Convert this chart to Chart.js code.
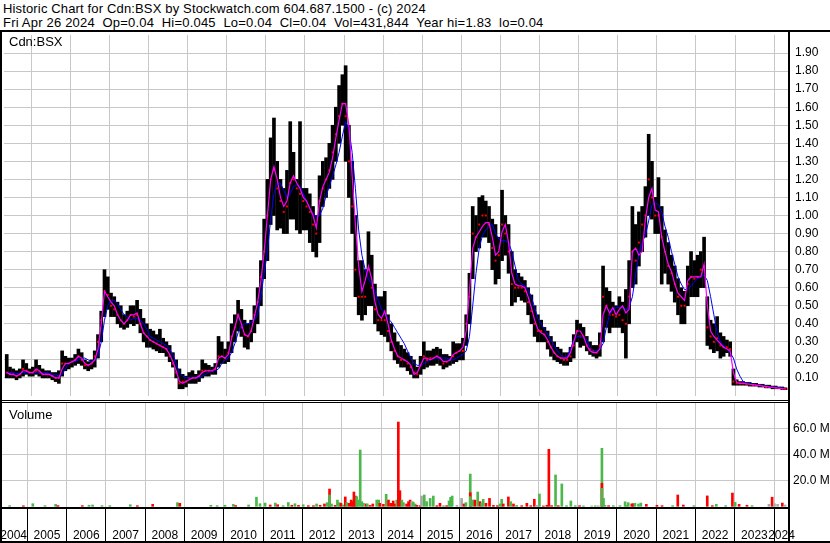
<!DOCTYPE html>
<html lang="en">
<head>
<meta charset="UTF-8">
<title>Historic Chart for Cdn:BSX</title>
<script src="https://cdn.jsdelivr.net/npm/chart.js"></script>
<style>
  body { margin: 0; background: #fff; }
  #page { position: relative; width: 830px; height: 543px; overflow: hidden; background: #fff;
          font-family: "Liberation Sans", Arial, sans-serif; color: #000; }
  .hdr { position: absolute; left: 3px; font-size: 13px; line-height: 14.4px; white-space: pre; }
  .tag { position: absolute; left: 9px; font-size: 13px; line-height: 14px; }
  canvas { position: absolute; left: 0; }
  .ln { position: absolute; background: #000; }
</style>
</head>
<body>
<div id="page">
  <div class="hdr" style="top:2px;letter-spacing:0.15px">Historic Chart for Cdn:BSX by Stockwatch.com 604.687.1500 - (c) 2024</div>
  <div class="hdr" style="top:16.4px;letter-spacing:0.2px">Fri Apr 26 2024  Op=0.04  Hi=0.045  Lo=0.04  Cl=0.04  Vol=431,844  Year hi=1.83  lo=0.04</div>
  <canvas id="priceChart" width="830" height="369" style="top:31px"></canvas>
  <canvas id="volChart" width="830" height="142" style="top:401px"></canvas>
  <div class="tag" style="top:35px">Cdn:BSX</div>
  <div class="tag" style="top:408px">Volume</div>
  <div class="ln" style="left:0;top:30px;width:830px;height:2px"></div>
  <div class="ln" style="left:0;top:30px;width:2px;height:513px"></div>
  <div class="ln" style="left:788px;top:30px;width:2px;height:513px"></div>
  <div class="ln" style="left:0;top:400px;width:789px;height:1px"></div>
  <div class="ln" style="left:0;top:402px;width:789px;height:1px"></div>
  <div class="ln" style="left:0;top:541px;width:830px;height:2px"></div>
</div>

<script>
// monthly bars, May 2004 .. Apr 2024 (one row per year)
const hi = [
  0.23,0.16,0.15,0.14,0.15,0.20,0.18,0.15,
  0.16,0.20,0.17,0.15,0.14,0.14,0.13,0.13,0.14,0.25,0.22,0.21,
  0.21,0.23,0.26,0.24,0.20,0.19,0.20,0.25,0.34,0.47,0.70,0.66,
  0.57,0.55,0.52,0.50,0.45,0.47,0.50,0.50,0.53,0.48,0.43,0.40,
  0.37,0.36,0.34,0.37,0.32,0.30,0.28,0.24,0.20,0.15,0.12,0.11,
  0.13,0.14,0.12,0.14,0.20,0.18,0.17,0.16,0.18,0.33,0.30,0.26,
  0.30,0.40,0.45,0.53,0.48,0.42,0.40,0.42,0.50,0.60,0.75,0.98,
  1.20,1.43,1.54,1.30,1.20,1.15,1.25,1.52,1.35,1.20,1.52,1.15,
  1.15,1.12,1.05,1.00,1.22,1.30,1.32,1.40,1.50,1.60,1.72,1.78,
  1.83,1.50,1.30,1.00,0.75,0.75,0.70,0.91,0.78,0.62,0.55,0.55,
  0.58,0.45,0.40,0.35,0.30,0.28,0.26,0.24,0.22,0.20,0.16,0.22,
  0.30,0.25,0.25,0.26,0.27,0.26,0.23,0.23,0.22,0.30,0.29,0.29,
  0.32,0.45,0.68,1.05,1.00,1.10,1.11,1.08,1.05,0.98,0.95,0.88,
  1.14,1.00,0.95,0.80,0.70,0.68,0.66,0.64,0.60,0.56,0.50,0.45,
  0.42,0.38,0.36,0.33,0.30,0.27,0.26,0.24,0.24,0.27,0.34,0.42,
  0.40,0.38,0.33,0.30,0.28,0.28,0.35,0.72,0.60,0.58,0.52,0.50,
  0.55,0.52,0.59,0.75,1.05,0.95,1.02,1.05,1.16,1.45,1.30,1.10,
  1.21,1.05,0.92,0.85,0.78,0.72,0.65,0.60,0.58,0.72,0.80,0.75,
  0.78,0.80,0.88,0.55,0.42,0.40,0.44,0.35,0.33,0.31,0.30,0.15,
  0.09,0.08,0.08,0.075,0.075,0.07,0.07,0.065,0.065,0.06,0.06,0.055,
  0.055,0.05,0.05,0.045
];
const lo = [
  0.10,0.10,0.10,0.09,0.10,0.11,0.12,0.11,
  0.11,0.12,0.11,0.10,0.10,0.10,0.09,0.08,0.07,0.11,0.14,0.15,
  0.16,0.17,0.18,0.17,0.15,0.14,0.15,0.16,0.21,0.30,0.44,0.48,
  0.44,0.44,0.40,0.38,0.37,0.38,0.40,0.39,0.40,0.35,0.30,0.27,
  0.27,0.26,0.25,0.24,0.24,0.22,0.19,0.16,0.10,0.04,0.04,0.05,
  0.07,0.07,0.07,0.08,0.10,0.11,0.11,0.12,0.12,0.16,0.18,0.18,
  0.19,0.24,0.30,0.36,0.33,0.27,0.26,0.30,0.35,0.40,0.50,0.65,
  0.75,0.95,1.00,0.92,0.93,0.90,0.90,0.98,0.98,0.92,0.90,0.92,
  0.92,0.85,0.80,0.77,0.85,1.05,1.10,1.15,1.20,1.30,1.40,1.50,
  1.30,1.10,0.90,0.55,0.45,0.42,0.45,0.50,0.50,0.40,0.36,0.34,
  0.33,0.30,0.25,0.20,0.18,0.16,0.16,0.14,0.12,0.10,0.10,0.12,
  0.15,0.16,0.17,0.17,0.18,0.17,0.15,0.16,0.17,0.18,0.19,0.20,
  0.20,0.28,0.40,0.65,0.80,0.82,0.88,0.88,0.85,0.70,0.62,0.65,
  0.75,0.78,0.68,0.50,0.52,0.55,0.53,0.52,0.45,0.40,0.33,0.30,
  0.30,0.30,0.26,0.22,0.20,0.19,0.18,0.17,0.17,0.19,0.21,0.30,
  0.27,0.28,0.25,0.23,0.22,0.21,0.22,0.30,0.38,0.35,0.38,0.38,
  0.38,0.35,0.21,0.40,0.60,0.62,0.72,0.80,0.88,1.00,0.98,0.90,
  0.90,0.62,0.68,0.62,0.58,0.52,0.45,0.40,0.40,0.50,0.55,0.55,
  0.55,0.60,0.60,0.28,0.26,0.24,0.25,0.21,0.22,0.24,0.22,0.06,
  0.06,0.06,0.06,0.06,0.055,0.055,0.055,0.05,0.05,0.045,0.045,0.04,
  0.04,0.04,0.035,0.035
];
const close = [
  0.13,0.12,0.12,0.11,0.12,0.15,0.14,0.13,
  0.13,0.14,0.13,0.12,0.12,0.12,0.11,0.10,0.10,0.18,0.18,0.18,
  0.19,0.20,0.22,0.20,0.17,0.17,0.18,0.22,0.30,0.42,0.58,0.56,
  0.50,0.48,0.45,0.42,0.40,0.42,0.45,0.44,0.45,0.40,0.35,0.33,
  0.31,0.30,0.29,0.28,0.27,0.26,0.22,0.18,0.13,0.07,0.08,0.08,
  0.10,0.10,0.10,0.11,0.14,0.14,0.14,0.14,0.15,0.22,0.22,0.21,
  0.24,0.33,0.38,0.45,0.38,0.34,0.33,0.36,0.45,0.52,0.66,0.80,
  1.00,1.20,1.25,1.15,1.08,1.02,1.05,1.18,1.20,1.15,1.12,1.08,
  1.05,1.02,0.95,0.90,1.08,1.15,1.20,1.25,1.35,1.45,1.55,1.62,
  1.55,1.30,1.05,0.70,0.55,0.55,0.55,0.70,0.60,0.48,0.42,0.42,
  0.42,0.36,0.30,0.25,0.22,0.20,0.20,0.18,0.16,0.13,0.12,0.17,
  0.22,0.20,0.21,0.21,0.22,0.21,0.18,0.19,0.20,0.22,0.24,0.25,
  0.25,0.40,0.55,0.90,0.88,0.95,1.00,1.00,0.95,0.82,0.75,0.78,
  0.95,0.90,0.80,0.62,0.60,0.60,0.60,0.58,0.52,0.47,0.40,0.36,
  0.36,0.34,0.30,0.27,0.24,0.22,0.21,0.20,0.20,0.22,0.28,0.36,
  0.33,0.33,0.28,0.26,0.25,0.24,0.28,0.55,0.50,0.45,0.45,0.44,
  0.45,0.42,0.40,0.55,0.80,0.75,0.85,0.95,1.00,1.20,1.10,1.00,
  1.00,0.88,0.80,0.72,0.68,0.62,0.55,0.50,0.50,0.62,0.66,0.65,
  0.66,0.70,0.72,0.38,0.33,0.30,0.32,0.28,0.27,0.27,0.26,0.08,
  0.07,0.07,0.07,0.065,0.065,0.06,0.06,0.06,0.055,0.05,0.05,0.05,
  0.045,0.045,0.04,0.04
];
// magenta (short) and blue (long) moving averages, read monthly
const maShort = [
  0.13,0.12,0.12,0.11,0.12,0.14,0.14,0.13,
  0.13,0.15,0.14,0.12,0.12,0.12,0.11,0.10,0.10,0.15,0.18,0.18,
  0.19,0.20,0.22,0.21,0.18,0.17,0.18,0.20,0.26,0.40,0.58,0.55,
  0.52,0.50,0.45,0.42,0.40,0.42,0.45,0.45,0.46,0.40,0.35,0.33,
  0.31,0.30,0.29,0.28,0.27,0.26,0.23,0.19,0.14,0.08,0.07,0.08,
  0.09,0.10,0.10,0.11,0.13,0.14,0.14,0.14,0.15,0.21,0.22,0.21,
  0.23,0.32,0.38,0.45,0.40,0.34,0.33,0.36,0.44,0.52,0.64,0.80,
  1.00,1.20,1.27,1.20,1.10,1.05,1.08,1.18,1.22,1.18,1.15,1.10,
  1.08,1.04,1.00,0.93,1.08,1.16,1.20,1.24,1.32,1.43,1.53,1.62,
  1.62,1.50,1.22,0.95,0.72,0.58,0.64,0.72,0.65,0.52,0.45,0.43,
  0.47,0.40,0.31,0.26,0.22,0.21,0.20,0.19,0.17,0.12,0.13,0.17,
  0.21,0.21,0.20,0.21,0.22,0.21,0.19,0.19,0.20,0.23,0.24,0.25,
  0.27,0.36,0.58,0.82,0.88,0.91,0.94,0.96,0.96,0.88,0.78,0.80,
  0.91,0.95,0.85,0.68,0.62,0.61,0.61,0.60,0.55,0.49,0.42,0.37,
  0.35,0.34,0.31,0.27,0.24,0.22,0.21,0.21,0.21,0.24,0.30,0.36,
  0.36,0.33,0.28,0.25,0.24,0.24,0.26,0.45,0.50,0.46,0.49,0.45,
  0.48,0.50,0.46,0.48,0.80,0.82,0.78,0.80,0.98,1.10,1.15,1.03,
  1.02,0.88,0.80,0.73,0.69,0.62,0.57,0.55,0.53,0.64,0.66,0.66,
  0.66,0.66,0.73,0.50,0.36,0.33,0.31,0.29,0.27,0.26,0.25,0.13,
  0.075,0.07,0.07,0.068,0.065,0.063,0.06,0.058,0.055,0.053,0.05,0.047,
  0.045,0.043,0.041,0.04
];
const maLong = [
  0.13,0.13,0.13,0.125,0.125,0.13,0.13,0.13,
  0.13,0.13,0.13,0.13,0.13,0.125,0.12,0.12,0.11,0.12,0.15,0.18,
  0.19,0.19,0.20,0.21,0.21,0.20,0.19,0.20,0.22,0.30,0.42,0.50,
  0.53,0.53,0.51,0.48,0.45,0.44,0.42,0.43,0.43,0.42,0.40,0.37,
  0.33,0.32,0.31,0.30,0.29,0.28,0.26,0.23,0.18,0.13,0.11,0.10,
  0.10,0.10,0.10,0.10,0.11,0.12,0.13,0.14,0.14,0.15,0.18,0.20,
  0.21,0.24,0.29,0.35,0.39,0.40,0.40,0.41,0.42,0.45,0.55,0.68,
  0.80,0.98,1.12,1.18,1.18,1.14,1.10,1.12,1.16,1.17,1.16,1.12,
  1.08,1.04,1.01,0.99,1.00,1.04,1.11,1.16,1.22,1.28,1.35,1.44,
  1.52,1.48,1.35,1.15,0.92,0.78,0.70,0.65,0.62,0.58,0.53,0.48,
  0.46,0.43,0.41,0.38,0.35,0.32,0.29,0.25,0.21,0.18,0.17,0.17,
  0.18,0.19,0.20,0.21,0.21,0.21,0.21,0.21,0.20,0.20,0.21,0.22,
  0.23,0.25,0.33,0.50,0.68,0.82,0.89,0.92,0.94,0.95,0.90,0.87,
  0.86,0.86,0.85,0.80,0.72,0.64,0.62,0.61,0.59,0.55,0.49,0.43,
  0.40,0.37,0.34,0.31,0.28,0.25,0.23,0.21,0.22,0.26,0.31,0.33,
  0.33,0.33,0.31,0.27,0.25,0.25,0.26,0.29,0.38,0.45,0.48,0.49,
  0.49,0.49,0.48,0.49,0.55,0.67,0.79,0.85,0.89,0.97,1.06,1.07,
  1.06,1.02,0.94,0.88,0.80,0.73,0.66,0.62,0.59,0.59,0.61,0.63,
  0.65,0.66,0.67,0.64,0.55,0.45,0.35,0.30,0.28,0.26,0.24,0.21,
  0.15,0.11,0.08,0.07,0.07,0.065,0.063,0.06,0.057,0.055,0.052,0.05,
  0.048,0.046,0.044,0.043
];

// volume bars (millions); u = up day, d = down day, n = unchanged
const volX = [
  2004.55,2004.90,2005.14,2005.45,2005.72,2005.78,2006.40,2006.57,2006.66,2006.90,2007.10,2007.62,2007.80,
  2008.19,2008.82,2008.88,2009.67,2009.83,2010.03,2010.24,2010.30,2010.63,2010.83,2010.92,
  2011.05,2011.18,2011.31,2011.37,2011.51,2011.64,2011.73,2011.81,2011.90,
  2012.02,2012.15,2012.28,2012.36,2012.45,2012.56,2012.63,2012.69,2012.69,2012.74,2012.83,2012.89,2012.94,2012.98,
  2013.04,2013.09,2013.13,2013.19,2013.24,2013.28,2013.31,2013.35,2013.38,2013.42,2013.47,2013.51,2013.55,
  2013.62,2013.65,2013.72,2013.79,2013.89,2013.94,2013.97,
  2014.06,2014.13,2014.19,2014.25,2014.31,2014.36,2014.40,2014.44,2014.48,2014.53,2014.57,2014.65,2014.70,
  2014.74,2014.78,2014.82,2014.87,2014.91,2014.99,
  2015.03,2015.10,2015.16,2015.25,2015.33,2015.42,2015.50,2015.59,2015.67,2015.73,2015.77,2015.81,2015.93,
  2016.05,2016.11,2016.16,2016.27,2016.27,2016.27,2016.33,2016.39,2016.46,2016.52,2016.56,2016.60,2016.67,
  2016.76,2016.86,2016.96,
  2017.03,2017.07,2017.11,2017.24,2017.30,2017.37,2017.45,2017.58,2017.71,2017.81,2017.90,2017.96,
  2018.03,2018.13,2018.22,2018.27,2018.34,2018.44,2018.51,2018.60,2018.72,2018.83,2018.94,
  2019.05,2019.15,2019.36,2019.45,2019.53,2019.62,2019.62,2019.62,2019.66,2019.70,2019.79,2019.91,
  2020.08,2020.21,2020.25,2020.29,2020.38,2020.41,2020.46,2020.55,2020.61,2020.75,
  2021.02,2021.15,2021.42,2021.55,2021.69,2021.96,
  2022.30,2022.43,2022.53,2022.77,2022.94,
  2023.01,2023.11,2023.31,2023.44,2023.87,2023.95,2024.01,2024.09,2024.21,2024.28
];
const volM = [
  0.5,0.4,2.0,0.5,1.5,0.6,0.5,0.8,1.0,0.5,0.5,1.2,0.5,
  1.5,2.8,2.3,0.8,0.5,0.8,1.5,0.6,1.0,7.0,2.0,
  2.5,1.0,2.5,1.2,0.5,2.9,0.8,2.0,0.7,
  1.2,0.5,0.5,1.8,0.8,1.8,2.8,13.3,8.7,1.8,0.7,4.8,2.8,2.3,
  1.0,7.2,2.8,2.3,4.8,3.6,11.0,7.9,7.4,4.8,43.3,3.6,2.3,
  1.8,1.8,0.7,1.8,4.8,4.8,2.3,
  1.5,9.2,4.8,2.3,4.1,1.8,4.8,64.8,12.0,4.8,2.8,1.8,3.6,
  4.8,3.6,3.3,1.8,0.7,0.5,
  7.9,8.7,3.6,6.1,7.9,0.5,2.3,0.4,0.5,4.1,6.9,7.9,0.7,
  6.1,1.8,2.8,24.8,10.5,7.4,4.8,4.8,11.0,3.6,2.3,5.4,2.3,
  6.1,0.7,0.5,
  1.8,5.4,1.8,7.2,3.6,1.8,0.7,0.5,2.3,0.5,5.4,0.7,
  9.5,0.3,0.8,43.8,0.5,24.1,0.5,17.2,0.5,4.1,0.5,
  0.5,0.3,0.3,0.4,0.4,44.6,17.7,13.8,6.1,0.7,0.5,0.5,
  0.5,3.5,0.7,2.8,1.8,2.0,2.3,1.8,2.5,1.5,
  0.8,0.5,0.5,8.7,1.0,0.5,
  8.0,0.5,1.5,0.5,10.2,
  3.0,1.5,0.8,0.5,1.5,7.0,2.0,1.5,2.5,1.0
];
const volDir = [
  'u','d','u','u','u','d','d','u','u','u','u','u','d',
  'd','u','d','u','u','u','u','d','u','u','u',
  'u','d','u','d','u','u','d','u','d',
  'u','d','d','u','d','d','u','d','u','u','d','u','u','d',
  'u','d','u','d','d','d','d','d','u','u','u','u','u',
  'd','u','d','d','u','u','d',
  'd','u','d','d','d','d','u','d','d','u','u','d','d',
  'd','n','u','u','d','d',
  'n','u','u','u','u','d','d','u','d','u','u','u','n',
  'n','d','u','u','d','u','u','d','u','d','u','u','d',
  'd','d','d',
  'u','u','d','d','u','d','u','d','d','d','d','n',
  'u','d','d','d','d','u','d','u','u','u','u',
  'd','u','n','u','n','u','d','u','u','u','d','u',
  'u','u','u','u','d','d','u','u','u','d',
  'd','d','u','d','d','u',
  'd','d','u','u','d',
  'u','d','d','u','n','d','n','n','d','n'
];

const priceTicks = [0.1,0.2,0.3,0.4,0.5,0.6,0.7,0.8,0.9,1.0,1.1,1.2,1.3,1.4,1.5,1.6,1.7,1.8,1.9];
const volTicks = [20, 40, 60];
const yearLines = [2005,2006,2007,2008,2009,2010,2011,2012,2013,2014,2015,2016,2017,2018,2019,2020,2021,2022,2023,2024];
const yearLabels = ['2004','2005','2006','2007','2008','2009','2010','2011','2012','2013','2014',
                    '2015','2016','2017','2018','2019','2020','2021','2022','2023','2024'];

const X_MIN = 2004.305, X_MAX = 2024.38;

// month centres, starting May 2004
const monthX = hi.map((_, i) => {
  const m = 4 + i;
  return 2004 + Math.floor(m / 12) + ((m % 12) + 0.5) / 12;
});
// label spot = middle of the visible part of each year
const yearMid = yearLabels.map((_, i) => {
  const a = Math.max(2004 + i, X_MIN), b = Math.min(2005 + i, X_MAX);
  return (a + b) / 2;
});

Chart.defaults.font.family = "'Liberation Sans', Arial, sans-serif";
Chart.defaults.font.size = 12;
Chart.defaults.color = '#000';

const volColor = { u: '#4cb84c', d: '#ff0000', n: '#a8a8a8' };
const gridGray = '#c8c8c8';

function noPadX(s) { s.height = 0; s.paddingLeft = 0; s.paddingRight = 0; }

new Chart(document.getElementById('priceChart'), {
  type: 'line',
  data: {
    datasets: [
      {
        type: 'bar',
        data: monthX.map((x, i) => ({ x: x, y: [lo[i], hi[i]] })),
        backgroundColor: '#000',
        barThickness: 3,
        order: 4
      },
      {
        data: monthX.map((x, i) => ({ x: x, y: close[i] })),
        showLine: false,
        pointStyle: 'rect',
        pointRadius: 1.4,
        pointBackgroundColor: '#ff0000',
        pointBorderWidth: 0,
        order: 3
      },
      {
        data: monthX.map((x, i) => ({ x: x, y: maLong[i] })),
        borderColor: '#0000ff',
        borderWidth: 1,
        pointRadius: 0,
        order: 2
      },
      {
        data: monthX.map((x, i) => ({ x: x, y: maShort[i] })),
        borderColor: '#ff00ff',
        borderWidth: 1.2,
        pointRadius: 0,
        order: 1
      }
    ]
  },
  options: {
    responsive: false,
    animation: false,
    devicePixelRatio: 1,
    plugins: { legend: { display: false }, tooltip: { enabled: false } },
    scales: {
      x: {
        type: 'linear', min: X_MIN, max: X_MAX, offset: false,
        afterBuildTicks: s => { s.ticks = yearLines.map(v => ({ value: v })); },
        grid: { color: gridGray, drawTicks: false, offset: false },
        border: { display: false },
        ticks: { display: false },
        afterFit: noPadX
      },
      y: {
        position: 'right', min: 0, max: 2,
        afterBuildTicks: s => { s.ticks = priceTicks.map(v => ({ value: v })); },
        grid: { color: gridGray, drawTicks: false },
        border: { display: false },
        ticks: { padding: 6, callback: v => v.toFixed(2) },
        afterFit: s => { s.width = 41; s.paddingTop = 0; s.paddingBottom = 0; }
      }
    }
  }
});

new Chart(document.getElementById('volChart'), {
  type: 'line',
  data: {
    datasets: [{
      type: 'bar',
      data: volX.map((x, i) => ({ x: x, y: volM[i] })),
      backgroundColor: volDir.map(d => volColor[d]),
      barThickness: 2
    }]
  },
  options: {
    responsive: false,
    animation: false,
    devicePixelRatio: 1,
    layout: { padding: { top: 1 } },
    plugins: { legend: { display: false }, tooltip: { enabled: false } },
    scales: {
      x: {
        type: 'linear', min: X_MIN, max: X_MAX, offset: false, position: 'bottom',
        afterBuildTicks: s => { s.ticks = yearLines.map(v => ({ value: v })); },
        grid: { color: gridGray, tickColor: '#000', drawTicks: true, tickLength: 35, offset: false },
        border: { display: true, color: '#000', width: 2 },
        ticks: { display: false },
        afterFit: noPadX
      },
      xl: {
        type: 'linear', min: X_MIN, max: X_MAX, offset: false, position: 'bottom',
        afterBuildTicks: s => { s.ticks = yearMid.map(v => ({ value: v })); },
        grid: { display: false, drawTicks: false },
        border: { display: false },
        ticks: { autoSkip: false, maxRotation: 0, padding: 20, callback: (v, i) => yearLabels[i] },
        afterFit: s => { s.height = 35; s.paddingLeft = 0; s.paddingRight = 0; }
      },
      y: {
        position: 'right', min: -1.3, max: 80.2,
        afterBuildTicks: s => { s.ticks = volTicks.map(v => ({ value: v })); },
        grid: { color: gridGray, drawTicks: false },
        border: { display: false },
        ticks: { padding: 4, callback: v => v.toFixed(1) + ' M' },
        afterFit: s => { s.width = 41; s.paddingTop = 0; s.paddingBottom = 0; }
      }
    }
  }
});
</script>
</body>
</html>
